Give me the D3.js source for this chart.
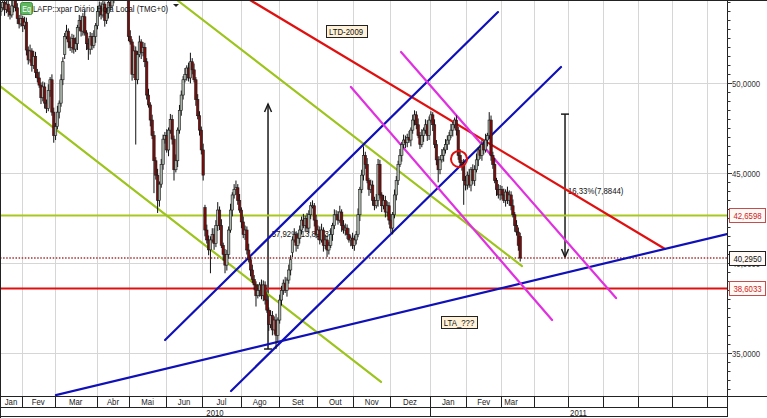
<!DOCTYPE html>
<html><head><meta charset="utf-8">
<script src="https://cdn.jsdelivr.net/npm/d3@7"></script>
<style>
html,body{margin:0;padding:0;background:#fff;}
svg{display:block;font-family:"Liberation Sans",Arial,sans-serif;}
</style></head><body>
<svg id="c" width="767" height="418"></svg>
<script>
// ---------- DATA ----------
const opens=[54.00,54.20,54.50,54.10,54.40,54.00,53.80,54.30,54.60,54.20,
53.60,53.30,53.60,53.20,53.40,51.85,51.30,51.80,51.00,51.50,
50.60,50.30,49.90,49.20,49.80,48.90,48.60,49.60,50.20,48.40,
47.10,47.60,48.40,48.90,50.20,51.60,52.60,52.90,52.30,52.00,
52.50,51.90,52.20,53.10,53.50,52.90,53.70,52.80,52.20,51.90,
52.60,52.10,52.60,53.20,54.00,54.30,53.80,54.40,53.50,53.90,
54.50,54.30,54.80,55.20,55.50,55.10,55.60,55.90,55.40,55.80,
54.70,52.60,52.30,50.50,51.80,50.20,51.60,52.30,51.70,52.00,
51.20,49.35,48.80,47.96,47.10,45.70,44.90,43.50,44.40,45.50,
46.90,47.10,46.30,47.40,48.00,46.90,45.20,45.70,47.40,48.50,
49.35,50.20,50.50,50.85,50.30,51.20,50.75,50.20,49.10,48.20,
47.40,46.30,43.10,41.85,41.30,40.75,41.30,41.60,41.10,42.10,
42.96,42.10,41.00,40.50,39.90,40.50,41.85,42.96,43.80,44.10,
44.20,43.50,42.96,42.30,41.60,41.85,40.74,40.20,39.63,39.10,
38.80,38.20,38.50,38.80,38.20,38.80,37.96,37.40,36.60,37.10,
36.30,36.85,36.00,36.85,37.96,38.50,38.90,38.50,39.07,39.63,
40.60,41.30,41.60,41.00,41.40,41.85,42.40,42.10,42.50,41.96,
42.70,43.20,43.20,42.40,41.60,41.85,41.30,41.85,41.00,41.30,
40.74,41.00,41.60,42.10,42.70,42.70,42.40,42.85,42.10,41.85,
41.96,41.60,41.30,41.40,41.00,41.30,41.60,42.70,44.10,44.90,
46.00,45.50,44.60,44.10,44.35,43.50,43.20,43.50,45.50,43.80,
43.20,43.50,42.85,43.20,42.40,41.96,42.70,43.80,44.60,45.50,
46.00,46.60,46.85,46.70,47.00,46.85,47.40,47.96,48.25,47.70,
47.10,46.60,47.10,47.40,47.70,47.10,47.96,48.25,47.70,46.60,
45.75,45.20,45.75,46.00,46.30,46.60,46.85,47.10,47.40,47.70,
47.96,47.40,46.00,45.60,45.50,44.60,44.35,44.90,44.35,45.20,
44.60,45.20,45.75,46.30,46.00,46.60,46.30,46.85,47.10,47.96,
46.00,45.50,44.60,44.10,43.80,44.10,43.80,43.50,43.96,43.50,
43.80,43.20,42.70,42.10,41.74,41.50];
const closes=[54.20,54.50,54.10,54.40,54.00,53.80,54.30,54.60,54.20,53.60,
53.30,53.60,53.20,53.40,51.85,51.30,51.80,51.00,51.50,50.60,
50.30,49.90,49.20,49.80,48.90,48.60,49.60,50.20,48.40,47.10,
47.60,48.40,48.90,50.20,51.20,52.60,52.90,52.30,52.00,52.50,
51.90,52.20,53.10,53.50,52.90,53.70,52.80,52.20,51.90,52.60,
52.10,52.60,53.20,54.00,54.30,53.80,54.40,53.50,53.90,54.50,
54.30,54.80,55.20,55.50,55.10,55.60,55.90,55.40,55.80,55.30,
52.60,52.30,50.50,51.80,50.20,51.60,52.30,51.70,52.00,51.20,
49.35,48.80,47.96,47.10,45.70,44.90,43.50,44.40,45.50,46.90,
47.10,46.30,47.40,48.00,46.90,45.20,45.70,47.40,48.50,49.35,
50.20,50.50,50.85,50.30,51.20,50.75,50.20,49.10,48.20,47.40,
46.30,44.90,41.85,41.30,40.75,41.30,41.60,41.10,42.10,42.96,
42.10,41.00,40.50,39.90,40.50,41.85,42.96,43.80,44.10,44.20,
43.50,42.96,42.30,41.60,41.85,40.74,40.20,39.63,39.10,38.80,
38.20,38.50,38.80,38.20,38.80,37.96,37.40,36.60,37.10,36.30,
36.85,36.00,36.85,37.96,38.50,38.90,38.50,39.07,39.63,40.20,
41.30,41.60,41.00,41.40,41.85,42.40,42.10,42.50,41.96,42.70,
43.20,43.20,42.40,41.60,41.85,41.30,41.85,41.00,41.30,40.74,
41.00,41.60,42.10,42.70,42.70,42.40,42.85,42.10,41.85,41.96,
41.60,41.30,41.40,41.00,41.30,41.60,42.70,44.10,44.90,46.00,
45.50,44.60,44.10,44.35,43.50,43.20,43.50,45.50,43.80,43.20,
43.50,42.85,43.20,42.40,41.96,42.70,43.80,44.60,45.50,46.00,
46.60,46.85,46.70,47.00,46.85,47.40,47.96,48.25,47.70,47.10,
46.60,47.10,47.40,47.70,47.10,47.96,48.25,47.70,46.60,45.75,
45.20,45.75,46.00,46.30,46.60,46.85,47.10,47.40,47.70,47.96,
47.40,46.00,45.60,45.50,44.60,44.35,44.90,44.35,45.20,44.60,
45.20,45.75,46.30,46.00,46.60,46.30,46.85,47.10,47.96,46.00,
45.50,44.60,44.10,43.80,44.10,43.80,43.50,43.96,43.50,43.80,
43.20,42.70,42.10,41.74,41.00,40.295];
const highs=[54.40,54.85,54.65,54.70,54.65,54.20,54.65,54.75,54.90,54.45,
53.80,53.95,53.75,53.70,53.65,52.05,52.15,51.95,51.80,51.75,
50.80,50.65,50.05,50.10,50.05,49.10,49.95,50.35,50.50,48.65,
47.80,48.75,49.05,50.50,51.45,52.80,53.25,53.05,52.60,52.75,
52.70,52.55,53.25,53.80,53.75,53.90,54.05,52.95,52.50,52.85,
52.80,52.95,53.35,54.30,54.55,54.50,54.75,54.55,54.20,54.75,
54.70,55.15,55.35,55.80,55.75,55.80,56.25,56.05,56.10,56.05,
55.00,52.95,52.45,52.10,52.05,51.80,52.65,52.45,52.30,52.25,
51.40,49.70,48.95,48.26,47.35,45.90,45.25,44.55,45.80,47.15,
47.30,47.45,47.55,48.30,48.25,47.10,46.05,47.55,48.80,49.60,
50.40,50.85,51.00,51.15,51.70,51.40,51.10,50.35,49.40,48.45,
47.60,46.65,43.25,42.15,41.55,41.50,41.95,41.95,42.40,43.40,
43.16,42.45,41.15,40.80,40.75,42.05,43.31,43.95,44.40,44.60,
44.40,43.85,43.11,42.60,42.10,42.05,41.09,40.35,39.93,39.35,
39.00,38.85,38.95,39.10,39.05,39.00,38.31,37.55,37.40,37.35,
37.05,37.20,37.00,38.26,38.75,39.10,39.25,39.22,39.93,40.45,
41.50,41.95,41.75,41.70,42.10,42.60,42.75,42.65,42.80,42.95,
43.40,43.50,43.35,42.70,42.10,42.05,42.20,42.00,41.60,41.55,
41.20,41.95,42.25,43.00,42.95,42.90,43.20,43.00,42.40,42.21,
42.16,41.95,41.55,41.70,41.55,41.80,43.05,44.25,45.20,46.50,
46.20,45.85,44.75,44.65,44.60,43.70,43.85,45.80,45.75,43.95,
43.80,43.75,43.45,43.40,42.75,42.85,44.10,44.85,45.70,46.35,
46.75,47.15,47.10,47.20,47.35,47.55,48.26,48.50,48.45,48.05,
47.30,47.45,47.55,48.00,47.95,48.16,48.45,48.40,48.00,46.85,
45.95,45.95,46.35,46.45,46.90,47.10,47.30,47.75,47.85,48.10,
48.21,47.60,46.35,45.75,45.80,44.85,45.10,45.25,45.35,45.50,
45.45,46.10,46.45,46.60,46.85,46.80,47.20,47.25,48.40,48.21,
46.20,45.85,44.75,44.40,44.35,44.30,44.15,44.11,44.26,44.05,
44.00,43.55,42.85,42.40,41.99,41.70];
const lows=[53.75,54.05,53.75,53.90,53.70,53.55,53.65,53.95,54.00,53.30,
53.05,53.15,52.85,53.00,51.55,51.05,51.15,50.65,50.80,50.30,
50.05,49.75,48.85,49.00,48.60,48.35,48.45,49.25,48.20,46.70,
46.85,47.45,48.05,48.70,49.90,51.35,52.45,51.95,51.80,51.70,
51.65,51.75,51.85,52.90,52.60,52.65,52.65,51.85,51.30,51.60,
51.85,51.95,52.25,53.00,53.70,53.55,53.65,53.15,53.30,53.60,
54.05,54.15,54.45,55.00,54.80,54.85,55.45,55.05,55.20,55.00,
52.35,52.15,50.15,50.30,46.60,49.95,51.45,51.35,51.50,50.90,
49.10,48.65,47.61,46.90,43.90,44.65,42.80,43.15,44.20,45.20,
46.65,46.15,45.95,47.20,46.60,44.60,45.05,45.35,47.20,48.20,
49.10,50.05,50.15,50.10,50.00,50.50,50.05,48.75,48.00,47.10,
46.05,44.60,41.50,41.10,40.45,39.45,41.15,40.75,40.90,41.80,
41.85,40.85,40.15,39.45,39.60,40.25,41.70,42.61,43.60,43.80,
43.25,42.81,41.95,41.40,41.30,40.49,40.05,39.28,38.90,38.50,
37.60,38.05,38.15,38.00,37.90,37.71,37.25,36.25,36.40,36.00,
36.05,35.24,35.65,36.65,37.66,38.25,38.35,38.15,38.87,39.33,
40.35,41.15,40.65,40.80,41.10,41.60,41.95,41.75,41.76,41.66,
42.45,43.05,42.05,41.40,41.30,41.05,41.15,40.65,40.80,40.35,
40.49,40.85,41.25,41.90,42.40,42.15,42.25,41.75,41.65,41.55,
41.35,41.15,40.95,40.80,40.70,41.05,41.45,42.35,43.90,44.60,
45.25,44.45,43.75,43.90,43.20,42.95,43.05,43.15,43.60,42.85,
43.00,42.55,42.60,42.15,41.70,41.61,42.50,43.50,44.35,45.35,
45.65,46.40,46.40,46.45,46.70,46.50,47.20,47.66,47.45,46.95,
46.35,46.45,46.75,47.20,46.80,46.85,47.81,47.35,46.40,45.45,
44.50,44.95,45.60,45.65,46.10,46.30,46.60,46.95,47.05,47.50,
47.10,45.75,45.45,45.15,43.25,44.05,44.10,44.20,44.00,44.40,
44.30,45.05,45.40,45.80,45.70,46.05,46.15,46.50,46.90,45.70,
45.25,44.45,43.75,43.60,43.50,43.55,43.35,43.15,43.30,43.20,
42.95,42.55,41.75,41.54,40.70,40.10];

// time axis: trading-day index where each month starts
const monthLabels=["Jan","Fev","Mar","Abr","Mai","Jun","Jul","Ago","Set","Out","Nov","Dez","Jan","Fev","Mar","","","","","",""];
const monthStarts=[0,12,30,53,71,91,111,132,153,174,194,214,236,256,275,293,312,331,350,369,388];
const axisEnd=399;
const yearLabels=["2010","2011"];
const yearStarts=[0,236];
const priceTicks=[35,40,45,50];
const priceDomain=[32.63,54.63];

// horizontal levels
const levelValues=[42.6598,40.2950,38.6033];
const levelLabels=["42,6598","40,2950","38,6033"];

// trendlines [barIndex, price]
const greenLineA=[[-0.5,49.85],[208.6,33.41]];
const greenLineB=[[96.6,54.63],[286.0,39.85]];
const redLineLTD=[[136.7,54.63],[364.5,40.80]];
const blueLineLTA=[[30.2,32.68],[398.5,41.63]];
const blueLineC1=[[90.1,35.74],[272.8,53.96]];
const blueLineC2=[[126.3,32.91],[307.4,50.91]];
const magentaLineA=[[192.1,49.80],[302.5,36.85]];
const magentaLineB=[[219.6,51.74],[337.6,38.07]];

// measurement arrows: bar index, start price, end price (arrow tip at end)
const arrowBars=[146.6,309.6];
const arrowFrom=[35.24,48.29];
const arrowTo=[48.85,40.35];
const arrowTexts=["57,92%(13,8573)","16,33%(7,8844)"];
const arrowTextAt=[[148.6,41.63],[311.2,44.02]];

// boxed notes
const noteTexts=["LTD-2009","LTA_???"];
const noteAt=[[189.4,52.91],[251.4,36.74]];
const circleAt=[251.4,45.80];
const titleText="LAFP::xpar Diário Hora Local (TMG+0)";

// ---------- DRAWING ----------
const svg=d3.select("#c");
const PL=0, PR=727, PT=0, PB=396;
const x=d3.scaleLinear().domain([-0.5,axisEnd-0.5]).range([PL,PR]);
const y=d3.scaleLinear().domain(priceDomain).range([PB,PT]);
const SX=0.84, FS=9.3;
const fmt=v=>d3.format(".4f")(v).replace(".",",");
function txt(g,px,py,s,anchor,color,size){
  return g.append("text").attr("transform",`translate(${px},${py}) scale(${SX},1)`)
    .attr("text-anchor",anchor||"start").attr("dy","0.35em")
    .attr("font-size",size||FS).attr("fill",color||"#222").text(s);
}
const crisp=v=>Math.round(v)+0.5;

svg.append("rect").attr("width",767).attr("height",418).attr("fill","#fff");
svg.append("defs").append("clipPath").attr("id","clip").append("rect")
  .attr("x",PL).attr("y",PT).attr("width",PR-PL).attr("height",PB-PT);

const plot=svg.append("g").attr("clip-path","url(#clip)");
// grid
plot.selectAll("line.vg").data(monthStarts.slice(1)).join("line")
  .attr("x1",d=>crisp(x(d-0.5))).attr("x2",d=>crisp(x(d-0.5)))
  .attr("y1",PT).attr("y2",PB).attr("stroke","#d6d6d6").attr("stroke-width",1);
plot.selectAll("line.hg").data(priceTicks).join("line")
  .attr("x1",PL).attr("x2",PR).attr("y1",d=>crisp(y(d))).attr("y2",d=>crisp(y(d)))
  .attr("stroke","#d6d6d6").attr("stroke-width",1);

// arrows (beneath candles)
const arr=plot.append("g").attr("stroke","#1a1a1a").attr("stroke-width",1.5).attr("fill","none");
arrowBars.forEach((b,i)=>{
  const ax=x(b), y0=y(arrowFrom[i]), y1=y(arrowTo[i]);
  const dir=y1<y0?1:-1;
  arr.append("line").attr("x1",ax).attr("x2",ax).attr("y1",y0).attr("y2",y1);
  arr.append("line").attr("x1",ax-4).attr("x2",ax+4).attr("y1",y0).attr("y2",y0);
  arr.append("path").attr("d",`M${ax-3.5},${y1+dir*8}L${ax},${y1}L${ax+3.5},${y1+dir*8}`);
  txt(plot,x(arrowTextAt[i][0]),y(arrowTextAt[i][1]),arrowTexts[i],"start","#111");
});

// levels
plot.append("line").attr("x1",PL).attr("x2",PR).attr("y1",y(levelValues[0])).attr("y2",y(levelValues[0]))
  .attr("stroke","#a8c820").attr("stroke-width",2);
plot.append("line").attr("x1",PL).attr("x2",PR).attr("y1",y(levelValues[1])).attr("y2",y(levelValues[1]))
  .attr("stroke","#a83030").attr("stroke-width",1.6).attr("stroke-dasharray","1.5,1.6");
plot.append("line").attr("x1",PL).attr("x2",PR).attr("y1",y(levelValues[2])).attr("y2",y(levelValues[2]))
  .attr("stroke","#e01010").attr("stroke-width",2);

// trendlines
const trend=[[greenLineA,"#9cc41c"],[greenLineB,"#9cc41c"],[redLineLTD,"#e01010"],
  [blueLineLTA,"#1010b8"],[blueLineC1,"#1010b8"],[blueLineC2,"#1010b8"],
  [magentaLineA,"#e030e0"],[magentaLineB,"#e030e0"]];
const lineGen=d3.line().x(d=>x(d[0])).y(d=>y(d[1]));
trend.forEach(([pts,col])=>{
  plot.append("path").attr("d",lineGen(pts)).attr("stroke",col).attr("stroke-width",2.2)
    .attr("fill","none").attr("stroke-linecap","round");
});

// candles
const bars=d3.range(closes.length);
const cg=plot.append("g");
cg.selectAll("line").data(bars).join("line")
  .attr("x1",i=>x(i)).attr("x2",i=>x(i)).attr("y1",i=>y(highs[i])).attr("y2",i=>y(lows[i]))
  .attr("stroke","#111").attr("stroke-width",1);
cg.selectAll("rect").data(bars).join("rect")
  .attr("x",i=>x(i)-1.2).attr("width",2.4)
  .attr("y",i=>y(Math.max(opens[i],closes[i])))
  .attr("height",i=>Math.max(1,Math.abs(y(opens[i])-y(closes[i]))))
  .attr("fill",i=>closes[i]>=opens[i]?"#aab4aa":"#7a0c0c")
  .attr("stroke","#1a1a1a").attr("stroke-width",0.6);

// circle
plot.append("circle").attr("cx",x(circleAt[0])).attr("cy",y(circleAt[1])).attr("r",8)
  .attr("fill","none").attr("stroke","#e01010").attr("stroke-width",2);

// notes
noteTexts.forEach((s,i)=>{
  const cx=x(noteAt[i][0]), cy=y(noteAt[i][1]);
  const w=s.length*4.7+3;
  plot.append("rect").attr("x",Math.round(cx-w/2)+0.5).attr("y",Math.round(cy-6)+0.5)
    .attr("width",Math.round(w)).attr("height",12).attr("fill","#fff2d8").attr("stroke","#222");
  txt(plot,cx,cy+0.5,s,"middle","#111");
});

// title
svg.append("rect").attr("x",20.5).attr("y",2.5).attr("width",12).attr("height",12).attr("rx",2)
  .attr("fill","#5fb85f").attr("stroke","#3d8f3d");
txt(svg,26.5,8.8,"Eq","middle","#fff",8.5);
txt(svg,33,8.5,titleText,"start","#111");
svg.append("path").attr("d","M173,4L179,4L176,7Z").attr("fill","#222");

// frame
svg.append("line").attr("x1",0).attr("x2",767).attr("y1",0.5).attr("y2",0.5).attr("stroke","#222");
svg.append("line").attr("x1",0.5).attr("x2",0.5).attr("y1",0).attr("y2",418).attr("stroke","#222");

// right price axis
const ax=svg.append("g");
ax.append("line").attr("x1",PR+0.5).attr("x2",PR+0.5).attr("y1",0).attr("y2",417).attr("stroke","#222");
const minor=d3.range(33,54.6,0.5);
ax.selectAll("line.t").data(minor).join("line")
  .attr("x1",PR).attr("x2",d=>PR+(priceTicks.includes(d)?5:3.5))
  .attr("y1",d=>crisp(y(d))).attr("y2",d=>crisp(y(d))).attr("stroke","#333");
priceTicks.forEach(v=>txt(ax,PR+5,y(v),fmt(v),"start","#333"));
// level tags
const tagStroke=["#c05050","#222","#c05050"], tagText=["#d02020","#111","#d02020"];
levelValues.forEach((v,i)=>{
  const cy=Math.round(y(v));
  ax.append("rect").attr("x",PR+2.5).attr("y",cy-6.5).attr("width",36).attr("height",14)
    .attr("fill","#fffaf5").attr("stroke",tagStroke[i]);
  txt(ax,PR+20.5,cy+0.5,levelLabels[i],"middle",tagText[i]);
});

// bottom time axis
const bx=svg.append("g");
bx.append("line").attr("x1",0).attr("x2",767).attr("y1",PB+0.5).attr("y2",PB+0.5).attr("stroke","#222");
bx.append("line").attr("x1",0).attr("x2",PR).attr("y1",407.5).attr("y2",407.5).attr("stroke","#222");
bx.append("line").attr("x1",0).attr("x2",PR).attr("y1",416.5).attr("y2",416.5).attr("stroke","#222");
bx.selectAll("line.ms").data(monthStarts.slice(1)).join("line")
  .attr("x1",d=>crisp(x(d-0.5))).attr("x2",d=>crisp(x(d-0.5))).attr("y1",PB).attr("y2",407.5).attr("stroke","#222");
const lastBar=closes.length;
monthLabels.forEach((s,i)=>{
  if(!s) return;
  const a=monthStarts[i], b=Math.min(i+1<monthStarts.length?monthStarts[i+1]:axisEnd,lastBar);
  txt(bx,x((a+b-1)/2),402,s,"middle","#222");
});
bx.selectAll("line.ys").data(yearStarts.slice(1)).join("line")
  .attr("x1",d=>crisp(x(d-0.5))).attr("x2",d=>crisp(x(d-0.5))).attr("y1",407).attr("y2",417).attr("stroke","#222");
yearLabels.forEach((s,i)=>{
  const a=yearStarts[i], b=i+1<yearStarts.length?yearStarts[i+1]:axisEnd;
  txt(bx,x((a+b-1)/2),412.5,s,"middle","#222");
});
</script>
</body></html>
